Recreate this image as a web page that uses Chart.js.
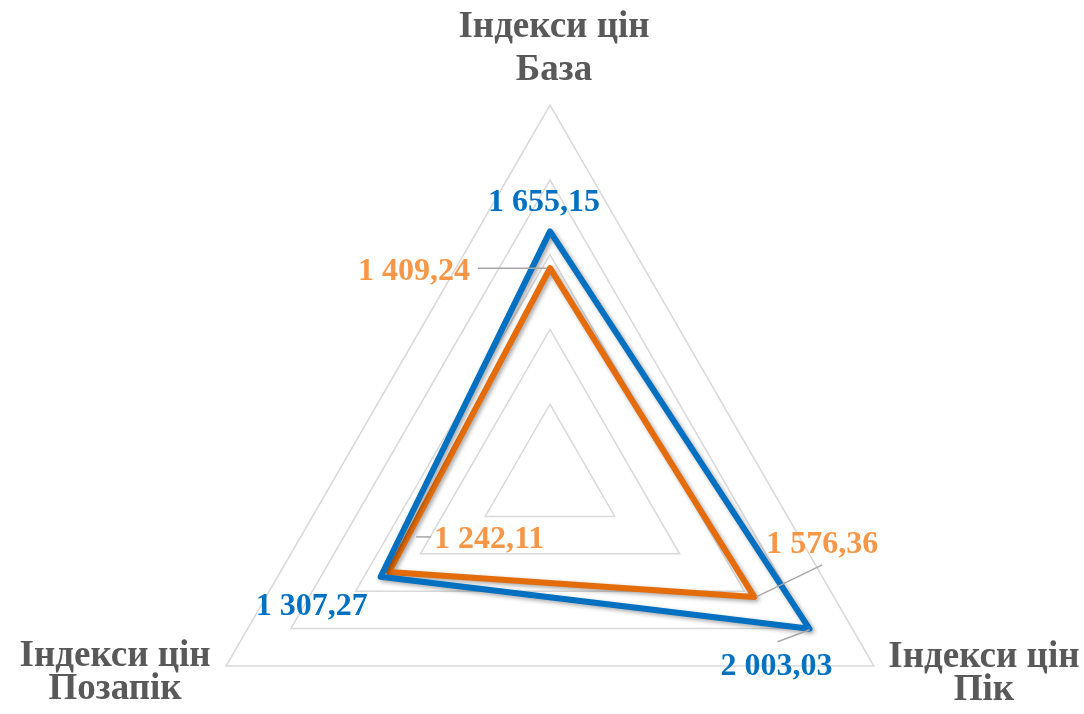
<!DOCTYPE html>
<html><head><meta charset="utf-8">
<script src="https://cdn.jsdelivr.net/npm/chart.js@4"></script>
<style>html,body{margin:0;padding:0;background:#fff;} canvas{display:block;}</style>
</head><body>
<canvas id="c" width="1084" height="714"></canvas>
<script>
// ---- data ----
const categories = [['Індекси цін', 'База'], ['Індекси цін', 'Пік'], ['Індекси цін', 'Позапік']];
const seriesNames = ['Ряд 1', 'Ряд 2'];
const blueValues = [1655.15, 2003.03, 1307.27];
const orangeValues = [1409.24, 1576.36, 1242.11];
const scaleMin = 0;
const scaleMax = 2500;
const scaleStep = 500;

// ---- styling / layout ----
const BLUE = '#0070C0', ORANGE_LINE = '#E46C0A', ORANGE_LABEL = '#F79646', GRAY_TEXT = '#595959';
const SERIF = "'Liberation Serif', 'Times New Roman', serif";
const geom = { cx: 550, cy: 479, r: 374 };

// label offsets relative to the data point [dx, dy] (baseline, centred), leader [x1,y1,x2,y2] relative to point
const labelLayout = [
  [ // blue
    { off: [-6, -20] },
    { off: [-33, 46], leader: [-32, 13, 0, 1] },
    { off: [-69, 38] }
  ],
  [ // orange
    { off: [-136, 12], leader: [-72, 0, -3, 0] },
    { off: [68, -44], leader: [68, -32, 2, 0] },
    { off: [100, -24], leader: [27, -35, 42, -35] }
  ]
];
// point label placement relative to outer vertex: [dx, baseline1 dy, baseline2 dy]
const pointLabelLayout = [[4, -68, -25], [110, 1, 34], [-111, 0, 33]];

function fmt(v) {
  const [i, d] = v.toFixed(2).split('.');
  return i.replace(/\B(?=(\d{3})+(?!\d))/g, ' ') + ',' + d;
}

const shadowPlugin = {
  id: 'shadow',
  beforeDatasetDraw(chart) {
    const ctx = chart.ctx;
    ctx.save();
    ctx.shadowColor = 'rgba(0,0,0,0.35)';
    ctx.shadowBlur = 4;
    ctx.shadowOffsetX = 2;
    ctx.shadowOffsetY = 2;
  },
  afterDatasetDraw(chart) { chart.ctx.restore(); }
};

const labelsPlugin = {
  id: 'labels',
  afterDatasetsDraw(chart) {
    const ctx = chart.ctx;
    ctx.save();
    chart.data.datasets.forEach((ds, di) => {
      const meta = chart.getDatasetMeta(di);
      meta.data.forEach((pt, i) => {
        const L = labelLayout[di][i];
        if (L.leader) {
          ctx.strokeStyle = '#A6A6A6';
          ctx.lineWidth = 1.5;
          ctx.beginPath();
          ctx.moveTo(pt.x + L.leader[0], pt.y + L.leader[1]);
          ctx.lineTo(pt.x + L.leader[2], pt.y + L.leader[3]);
          ctx.stroke();
        }
      });
    });
    chart.data.datasets.forEach((ds, di) => {
      const meta = chart.getDatasetMeta(di);
      meta.data.forEach((pt, i) => {
        const L = labelLayout[di][i];
        ctx.fillStyle = di === 0 ? BLUE : ORANGE_LABEL;
        ctx.font = 'bold 32px ' + SERIF;
        ctx.textAlign = 'center';
        ctx.textBaseline = 'alphabetic';
        ctx.fillText(fmt(ds.data[i]), pt.x + L.off[0], pt.y + L.off[1]);
      });
    });
    // axis (point) labels
    const scale = chart.scales.r;
    ctx.fillStyle = GRAY_TEXT;
    ctx.font = 'bold 37px ' + SERIF;
    ctx.textAlign = 'center';
    categories.forEach((lines, i) => {
      const p = scale.getPointPositionForValue(i, scaleMax);
      const pl = pointLabelLayout[i];
      ctx.fillText(lines[0], p.x + pl[0], p.y + pl[1]);
      ctx.fillText(lines[1], p.x + pl[0], p.y + pl[2]);
    });
    ctx.restore();
  }
};

new Chart(document.getElementById('c'), {
  type: 'radar',
  data: {
    labels: categories,
    datasets: [
      { label: seriesNames[0], data: blueValues, borderColor: BLUE, borderWidth: 6, fill: false, pointRadius: 0, pointHoverRadius: 0, borderJoinStyle: 'round', clip: false },
      { label: seriesNames[1], data: orangeValues, borderColor: ORANGE_LINE, borderWidth: 6, fill: false, pointRadius: 0, pointHoverRadius: 0, borderJoinStyle: 'round', clip: false }
    ]
  },
  options: {
    responsive: false,
    animation: false,
    devicePixelRatio: 1,
    plugins: { legend: { display: false }, tooltip: { enabled: false } },
    elements: { line: { tension: 0 } },
    scales: {
      r: {
        min: scaleMin,
        max: scaleMax,
        ticks: { display: false, stepSize: scaleStep },
        grid: { color: '#D9D9D9', lineWidth: 1.5 },
        angleLines: { display: false },
        pointLabels: { display: false },
        afterFit(scale) {
          scale.xCenter = geom.cx;
          scale.yCenter = geom.cy;
          scale.drawingArea = geom.r;
        }
      }
    }
  },
  plugins: [shadowPlugin, labelsPlugin]
});
</script>
</body></html>
